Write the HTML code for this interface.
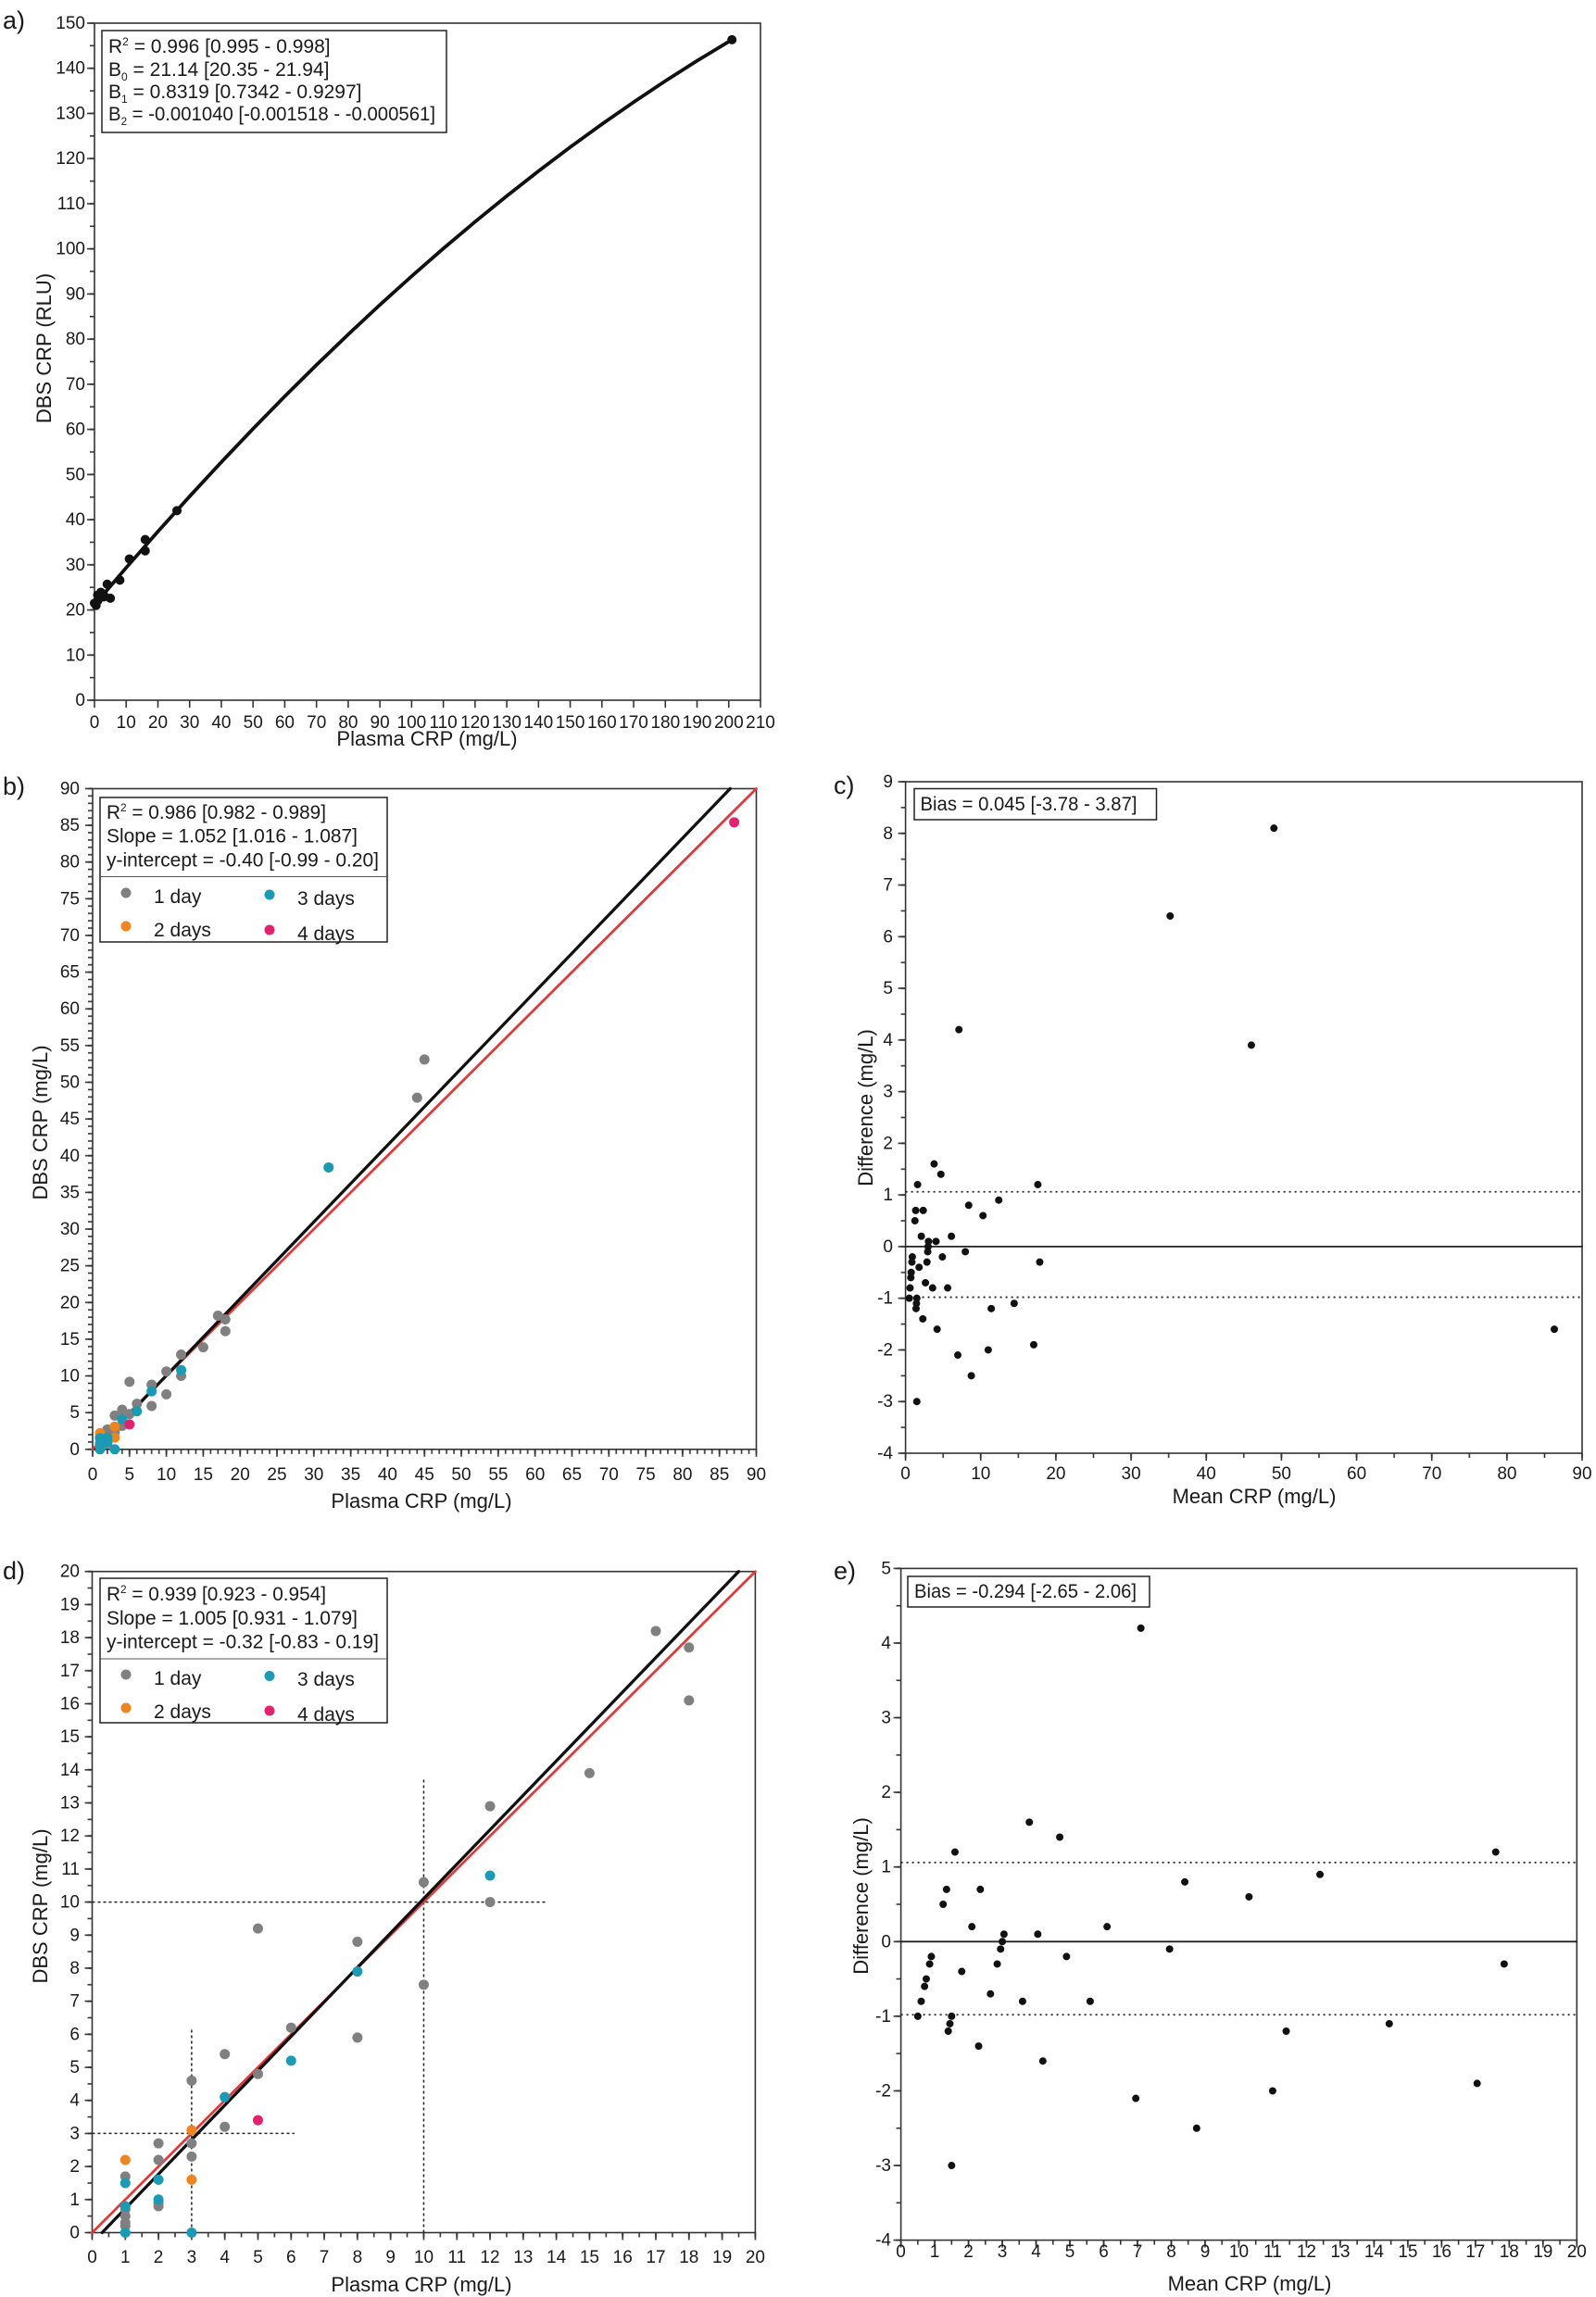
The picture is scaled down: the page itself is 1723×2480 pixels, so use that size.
<!DOCTYPE html>
<html><head><meta charset="utf-8"><style>
html,body{margin:0;padding:0;background:#fff}
svg{display:block}
text{font-family:"Liberation Sans",Arial,sans-serif;fill:#1a1a1a}
.t{font-size:19px}
.ti{font-size:22px}
.lg{font-size:21px}
.pl{font-size:27px}
.r{text-anchor:end}.m{text-anchor:middle}
.ax{fill:none;stroke:#333;stroke-width:2}
.d path{stroke-linecap:round;vector-effect:non-scaling-stroke;fill:none}
</style></head><body>
<svg width="1723" height="2480" viewBox="0 0 1723 2480" xmlns="http://www.w3.org/2000/svg">
<defs>
<pattern id="ya1" patternUnits="userSpaceOnUse" width="20" height="24.367" y="743.82"><rect y="11.38" width="20" height="1.6" fill="#333"/></pattern>
<pattern id="ya2" patternUnits="userSpaceOnUse" width="20" height="48.733" y="731.63"><rect y="23.57" width="20" height="1.6" fill="#333"/></pattern>
<pattern id="xa2" patternUnits="userSpaceOnUse" width="34.238" height="20" x="84.88"><rect x="16.32" width="1.6" height="20" fill="#333"/></pattern>
<pattern id="yb1" patternUnits="userSpaceOnUse" width="20" height="7.926" y="1560.84"><rect y="3.16" width="20" height="1.6" fill="#333"/></pattern>
<pattern id="yb2" patternUnits="userSpaceOnUse" width="20" height="39.63" y="1544.99"><rect y="19.0" width="20" height="1.6" fill="#333"/></pattern>
<pattern id="xb1" patternUnits="userSpaceOnUse" width="7.961" height="20" x="96.02"><rect x="3.18" width="1.6" height="20" fill="#333"/></pattern>
<pattern id="xb2" patternUnits="userSpaceOnUse" width="39.805" height="20" x="80.1"><rect x="19.1" width="1.6" height="20" fill="#333"/></pattern>
<pattern id="yc1" patternUnits="userSpaceOnUse" width="20" height="27.885" y="1555.06"><rect y="13.14" width="20" height="1.6" fill="#333"/></pattern>
<pattern id="yc2" patternUnits="userSpaceOnUse" width="20" height="55.77" y="1541.12"><rect y="27.08" width="20" height="1.6" fill="#333"/></pattern>
<pattern id="xc1" patternUnits="userSpaceOnUse" width="40.58" height="20" x="957.31"><rect x="19.49" width="1.6" height="20" fill="#333"/></pattern>
<pattern id="xc2" patternUnits="userSpaceOnUse" width="81.16" height="20" x="937.02"><rect x="39.78" width="1.6" height="20" fill="#333"/></pattern>
<pattern id="yd1" patternUnits="userSpaceOnUse" width="20" height="17.845" y="2401.58"><rect y="8.12" width="20" height="1.6" fill="#333"/></pattern>
<pattern id="yd2" patternUnits="userSpaceOnUse" width="20" height="35.69" y="2392.66"><rect y="17.04" width="20" height="1.6" fill="#333"/></pattern>
<pattern id="xd1" patternUnits="userSpaceOnUse" width="17.8975" height="20" x="90.55"><rect x="8.15" width="1.6" height="20" fill="#333"/></pattern>
<pattern id="xd2" patternUnits="userSpaceOnUse" width="35.795" height="20" x="81.6"><rect x="17.1" width="1.6" height="20" fill="#333"/></pattern>
<pattern id="ye1" patternUnits="userSpaceOnUse" width="20" height="40.29" y="2398.46"><rect y="19.35" width="20" height="1.6" fill="#333"/></pattern>
<pattern id="ye2" patternUnits="userSpaceOnUse" width="20" height="80.58" y="2378.31"><rect y="39.49" width="20" height="1.6" fill="#333"/></pattern>
<pattern id="xe1" patternUnits="userSpaceOnUse" width="18.2425" height="20" x="963.48"><rect x="8.32" width="1.6" height="20" fill="#333"/></pattern>
<pattern id="xe2" patternUnits="userSpaceOnUse" width="36.485" height="20" x="954.36"><rect x="17.44" width="1.6" height="20" fill="#333"/></pattern>
</defs>

<!-- ================= PANEL A ================= -->
<text class="pl" x="3" y="31">a)</text>
<rect class="ax" x="102" y="25" width="719" height="731" style="stroke-width:1.6"/>
<rect x="97" y="23" width="5" height="735" fill="url(#ya1)"/>
<rect x="94" y="23" width="8" height="735" fill="url(#ya2)"/>
<rect x="100" y="756" width="723" height="8" fill="url(#xa2)"/>
<g class="t r">
<text x="92" y="762">0</text><text x="92" y="713.3">10</text><text x="92" y="664.5">20</text><text x="92" y="615.8">30</text><text x="92" y="567.1">40</text><text x="92" y="518.3">50</text><text x="92" y="469.6">60</text><text x="92" y="420.9">70</text><text x="92" y="372.1">80</text><text x="92" y="323.4">90</text><text x="92" y="274.7">100</text><text x="92" y="225.9">110</text><text x="92" y="177.2">120</text><text x="92" y="128.5">130</text><text x="92" y="79.7">140</text><text x="92" y="31">150</text>
</g>
<g class="t m">
<text x="102" y="786">0</text><text x="136.2" y="786">10</text><text x="170.5" y="786">20</text><text x="204.7" y="786">30</text><text x="238.9" y="786">40</text><text x="273.2" y="786">50</text><text x="307.4" y="786">60</text><text x="341.7" y="786">70</text><text x="375.9" y="786">80</text><text x="410.1" y="786">90</text><text x="444.4" y="786">100</text><text x="478.6" y="786">110</text><text x="512.9" y="786">120</text><text x="547.1" y="786">130</text><text x="581.3" y="786">140</text><text x="615.6" y="786">150</text><text x="649.8" y="786">160</text><text x="684" y="786">170</text><text x="718.3" y="786">180</text><text x="752.5" y="786">190</text><text x="786.8" y="786">200</text><text x="821" y="786">210</text>
</g>
<text class="ti m" x="461" y="805">Plasma CRP (mg/L)</text>
<text class="ti m" transform="translate(55,376) rotate(-90)">DBS CRP (RLU)</text>
<rect x="110" y="33" width="372" height="110" fill="#fff" stroke="#222" stroke-width="1.5"/>
<g class="lg">
<text x="117" y="57">R<tspan font-size="12" dy="-8">2</tspan><tspan dy="8"> = 0.996 [0.995 - 0.998]</tspan></text>
<text x="117" y="82">B<tspan font-size="12" dy="5">0</tspan><tspan dy="-5"> = 21.14 [20.35 - 21.94]</tspan></text>
<text x="117" y="106">B<tspan font-size="12" dy="5">1</tspan><tspan dy="-5"> = 0.8319 [0.7342 - 0.9297]</tspan></text>
<text x="117" y="130" textLength="353" lengthAdjust="spacingAndGlyphs">B<tspan font-size="12" dy="5">2</tspan><tspan dy="-5"> = -0.001040 [-0.001518 - -0.000561]</tspan></text>
</g>
<g class="d" transform="matrix(3.4238 0 0 -4.8733 102 756)">
<path d="M0 21.14L10 29.355L20 37.362L30 45.161L40 52.752L50 60.135L60 67.31L70 74.277L80 81.036L90 87.587L100 93.93L110 100.065L120 105.992L130 111.711L140 117.222L150 122.525L160 127.62L170 132.507L180 137.186L190 141.657L201 146.33" stroke="#111" stroke-width="3.8"/>
<path d="M201 146.33h0M26 42h0M16 35.6h0M16 33.1h0M11 31.3h0M8 26.6h0M4 25.7h0M5 22.6h0M2 23.9h0M3 23.2h0M1 23.3h0M0.5 21h0M1 22h0M2 22.8h0M0 21.5h0M3 22.9h0" stroke="#111" stroke-width="10"/>
</g>

<!-- ================= PANEL B ================= -->
<text class="pl" x="3" y="858">b)</text>
<rect class="ax" x="100" y="851.5" width="716.5" height="713.3" style="stroke-width:1.6"/>
<rect x="95" y="849" width="5" height="718" fill="url(#yb1)"/>
<rect x="92" y="849" width="8" height="718" fill="url(#yb2)"/>
<rect x="98" y="1564.8" width="721" height="5" fill="url(#xb1)"/>
<rect x="98" y="1564.8" width="721" height="8" fill="url(#xb2)"/>
<g class="t r">
<text x="86" y="1570.8">0</text><text x="86" y="1531.2">5</text><text x="86" y="1491.5">10</text><text x="86" y="1451.9">15</text><text x="86" y="1412.3">20</text><text x="86" y="1372.7">25</text><text x="86" y="1333">30</text><text x="86" y="1293.4">35</text><text x="86" y="1253.8">40</text><text x="86" y="1214.1">45</text><text x="86" y="1174.5">50</text><text x="86" y="1134.9">55</text><text x="86" y="1095.2">60</text><text x="86" y="1055.6">65</text><text x="86" y="1016">70</text><text x="86" y="976.4">75</text><text x="86" y="936.7">80</text><text x="86" y="897.1">85</text><text x="86" y="857.5">90</text>
</g>
<g class="t m">
<text x="100" y="1598">0</text><text x="139.8" y="1598">5</text><text x="179.6" y="1598">10</text><text x="219.4" y="1598">15</text><text x="259.2" y="1598">20</text><text x="299" y="1598">25</text><text x="338.8" y="1598">30</text><text x="378.6" y="1598">35</text><text x="418.4" y="1598">40</text><text x="458.2" y="1598">45</text><text x="498" y="1598">50</text><text x="537.9" y="1598">55</text><text x="577.7" y="1598">60</text><text x="617.5" y="1598">65</text><text x="657.3" y="1598">70</text><text x="697.1" y="1598">75</text><text x="736.9" y="1598">80</text><text x="776.7" y="1598">85</text><text x="816.5" y="1598">90</text>
</g>
<text class="ti m" x="455" y="1628">Plasma CRP (mg/L)</text>
<text class="ti m" transform="translate(51,1212) rotate(-90)">DBS CRP (mg/L)</text>
<g class="d" transform="matrix(7.961 0 0 -7.926 100 1564.8)">
<path d="M0 0L90 90" stroke="#e03a3a" stroke-width="2.8"/>
<path d="M0.38 0L86.45 90" stroke="#111" stroke-width="3.3"/>
<path d="M45 53.1h0M44 47.9h0M17 18.2h0M18 17.7h0M18 16.1h0M15 13.9h0M12 12.9h0M12 10h0M10 10.6h0M10 7.5h0M5 9.2h0M8 8.8h0M8 5.9h0M6 6.2h0M4 5.4h0M3 4.6h0M5 4.8h0M4 3.2h0M3 2.7h0M3 2.3h0M2 2.7h0M2 2.2h0M1 1.7h0M2 0.8h0M1 0.5h0M1 0.3h0" stroke="#808080" stroke-width="11"/>
<path d="M1 2.2h0M3 3.1h0M3 1.6h0" stroke="#f0841e" stroke-width="11"/>
<path d="M32 38.4h0M12 10.8h0M8 7.9h0M6 5.2h0M4 4.1h0M1 1.5h0M2 1.6h0M1 0.8h0M2 1.0h0M1 0h0M3 0h0" stroke="#1a9bb5" stroke-width="11"/>
<path d="M87 85.4h0M5 3.4h0" stroke="#e5206f" stroke-width="11"/>
</g>
<rect x="108" y="861" width="310" height="156" fill="#fff" stroke="#222" stroke-width="1.5"/>
<line x1="108" y1="946.5" x2="418" y2="946.5" stroke="#555" stroke-width="1"/>
<g class="lg">
<text x="115" y="884" textLength="237" lengthAdjust="spacingAndGlyphs">R<tspan font-size="12" dy="-8">2</tspan><tspan dy="8"> = 0.986 [0.982 - 0.989]</tspan></text>
<text x="115" y="909.5" textLength="271" lengthAdjust="spacingAndGlyphs">Slope = 1.052 [1.016 - 1.087]</text>
<text x="115" y="935.5" textLength="294" lengthAdjust="spacingAndGlyphs">y-intercept = -0.40 [-0.99 - 0.20]</text>
<text x="166" y="975">1 day</text><text x="166" y="1011">2 days</text><text x="321" y="977">3 days</text><text x="321" y="1015">4 days</text>
</g>
<circle cx="136" cy="964" r="5.5" fill="#808080"/><circle cx="136" cy="1000" r="5.5" fill="#f0841e"/>
<circle cx="291" cy="966" r="5.5" fill="#1a9bb5"/><circle cx="291" cy="1004" r="5.5" fill="#e5206f"/>

<!-- ================= PANEL C ================= -->
<text class="pl" x="900" y="857">c)</text>
<rect class="ax" x="977.6" y="844" width="730.4" height="725" style="stroke-width:1.6"/>
<rect x="972.6" y="842" width="5" height="729" fill="url(#yc1)"/>
<rect x="969.6" y="842" width="8" height="729" fill="url(#yc2)"/>
<rect x="975.6" y="1569" width="735" height="5" fill="url(#xc1)"/>
<rect x="975.6" y="1569" width="735" height="8" fill="url(#xc2)"/>
<g class="t r">
<text x="964" y="1575">-4</text><text x="964" y="1519.2">-3</text><text x="964" y="1463.5">-2</text><text x="964" y="1407.7">-1</text><text x="964" y="1351.9">0</text><text x="964" y="1296.2">1</text><text x="964" y="1240.4">2</text><text x="964" y="1184.6">3</text><text x="964" y="1128.8">4</text><text x="964" y="1073.1">5</text><text x="964" y="1017.3">6</text><text x="964" y="961.5">7</text><text x="964" y="905.8">8</text><text x="964" y="850">9</text>
</g>
<g class="t m">
<text x="977.6" y="1597">0</text><text x="1058.8" y="1597">10</text><text x="1139.9" y="1597">20</text><text x="1221.1" y="1597">30</text><text x="1302.2" y="1597">40</text><text x="1383.4" y="1597">50</text><text x="1464.6" y="1597">60</text><text x="1545.7" y="1597">70</text><text x="1626.9" y="1597">80</text><text x="1708" y="1597">90</text>
</g>
<text class="ti m" x="1354" y="1623">Mean CRP (mg/L)</text>
<text class="ti m" transform="translate(942,1196) rotate(-90)">Difference (mg/L)</text>
<g class="d" transform="matrix(8.116 0 0 -55.77 977.6 1345.9)">
<path d="M0 0H90" stroke="#222" stroke-width="1.8"/>
<path d="M0 1.06H90M0 -0.98H90" stroke="#222" stroke-width="1.8" stroke-dasharray="2 4" style="stroke-linecap:butt"/>
<path d="M49 8.1h0M35.2 6.4h0M46 3.9h0M86.3 -1.6h0M7.1 4.2h0M3.8 1.6h0M4.7 1.4h0M1.6 1.2h0M17.6 1.2h0M12.4 0.9h0M8.4 0.8h0M1.35 0.7h0M2.35 0.7h0M10.3 0.6h0M1.25 0.5h0M2.1 0.2h0M6.1 0.2h0M3.05 0.1h0M4.05 0.1h0M3 0h0M2.95 -0.1h0M7.95 -0.1h0M0.9 -0.2h0M4.9 -0.2h0M0.85 -0.3h0M2.85 -0.3h0M17.85 -0.3h0M1.8 -0.4h0M0.75 -0.5h0M0.7 -0.6h0M2.65 -0.7h0M3.6 -0.8h0M5.6 -0.8h0M0.6 -0.8h0M0.5 -1h0M1.5 -1h0M1.45 -1.1h0M14.45 -1.1h0M1.4 -1.2h0M11.4 -1.2h0M2.3 -1.4h0M4.2 -1.6h0M6.95 -2.1h0M11 -2h0M17.05 -1.9h0M8.75 -2.5h0M1.5 -3h0" stroke="#111" stroke-width="8"/>
</g>
<rect x="987" y="851.5" width="261.5" height="33.5" fill="#fff" stroke="#222" stroke-width="1.5"/>
<text class="lg" x="993.5" y="875" textLength="234" lengthAdjust="spacingAndGlyphs">Bias = 0.045 [-3.78 - 3.87]</text>

<!-- ================= PANEL D ================= -->
<text class="pl" x="3" y="1705">d)</text>
<rect class="ax" x="99.5" y="1696.7" width="715.9" height="713.8" style="stroke-width:1.6"/>
<rect x="94.5" y="1694" width="5" height="719" fill="url(#yd1)"/>
<rect x="91.5" y="1694" width="8" height="719" fill="url(#yd2)"/>
<rect x="97.5" y="2410.5" width="720" height="5" fill="url(#xd1)"/>
<rect x="97.5" y="2410.5" width="720" height="8" fill="url(#xd2)"/>
<g class="t r">
<text x="86" y="2416.5">0</text><text x="86" y="2380.8">1</text><text x="86" y="2345.1">2</text><text x="86" y="2309.4">3</text><text x="86" y="2273.7">4</text><text x="86" y="2238">5</text><text x="86" y="2202.4">6</text><text x="86" y="2166.7">7</text><text x="86" y="2131">8</text><text x="86" y="2095.3">9</text><text x="86" y="2059.6">10</text><text x="86" y="2023.9">11</text><text x="86" y="1988.2">12</text><text x="86" y="1952.5">13</text><text x="86" y="1916.8">14</text><text x="86" y="1881.2">15</text><text x="86" y="1845.5">16</text><text x="86" y="1809.8">17</text><text x="86" y="1774.1">18</text><text x="86" y="1738.4">19</text><text x="86" y="1702.7">20</text>
</g>
<g class="t m">
<text x="99.5" y="2443">0</text><text x="135.3" y="2443">1</text><text x="171.1" y="2443">2</text><text x="206.9" y="2443">3</text><text x="242.7" y="2443">4</text><text x="278.5" y="2443">5</text><text x="314.3" y="2443">6</text><text x="350.1" y="2443">7</text><text x="385.9" y="2443">8</text><text x="421.7" y="2443">9</text><text x="457.5" y="2443">10</text><text x="493.2" y="2443">11</text><text x="529" y="2443">12</text><text x="564.8" y="2443">13</text><text x="600.6" y="2443">14</text><text x="636.4" y="2443">15</text><text x="672.2" y="2443">16</text><text x="708" y="2443">17</text><text x="743.8" y="2443">18</text><text x="779.6" y="2443">19</text><text x="815.4" y="2443">20</text>
</g>
<text class="ti m" x="455" y="2474">Plasma CRP (mg/L)</text>
<text class="ti m" transform="translate(51,2058) rotate(-90)">DBS CRP (mg/L)</text>
<g class="d" transform="matrix(35.795 0 0 -35.69 99.5 2410.5)">
<path d="M3 0V6.2M0 3H6.1M10 0V13.75M0 10H13.7" stroke="#222" stroke-width="1.5" stroke-dasharray="3 3" style="stroke-linecap:butt"/>
<path d="M0 0L20 20" stroke="#e03a3a" stroke-width="2.8"/>
<path d="M0.3 0L19.5 20" stroke="#111" stroke-width="3.3"/>
<path d="M17 18.2h0M18 17.7h0M18 16.1h0M15 13.9h0M12 12.9h0M12 10h0M10 10.6h0M10 7.5h0M5 9.2h0M8 8.8h0M8 5.9h0M6 6.2h0M4 5.4h0M3 4.6h0M5 4.8h0M4 3.2h0M3 2.7h0M3 2.3h0M2 2.7h0M2 2.2h0M1 1.7h0M2 0.8h0M2 0.9h0M1 0.5h0M1 0.3h0M1 0.7h0M1 0.2h0" stroke="#808080" stroke-width="11"/>
<path d="M1 2.2h0M3 3.1h0M3 1.6h0" stroke="#f0841e" stroke-width="11"/>
<path d="M12 10.8h0M8 7.9h0M6 5.2h0M4 4.1h0M1 1.5h0M2 1.6h0M1 0.8h0M2 1.0h0M1 0h0M3 0h0" stroke="#1a9bb5" stroke-width="11"/>
<path d="M5 3.4h0" stroke="#e5206f" stroke-width="11"/>
</g>
<rect x="108" y="1704" width="310" height="156" fill="#fff" stroke="#222" stroke-width="1.5"/>
<line x1="108" y1="1791" x2="418" y2="1791" stroke="#555" stroke-width="1"/>
<g class="lg">
<text x="115" y="1728" textLength="237" lengthAdjust="spacingAndGlyphs">R<tspan font-size="12" dy="-8">2</tspan><tspan dy="8"> = 0.939 [0.923 - 0.954]</tspan></text>
<text x="115" y="1754" textLength="271" lengthAdjust="spacingAndGlyphs">Slope = 1.005 [0.931 - 1.079]</text>
<text x="115" y="1779.5" textLength="294" lengthAdjust="spacingAndGlyphs">y-intercept = -0.32 [-0.83 - 0.19]</text>
<text x="166" y="1819">1 day</text><text x="166" y="1855">2 days</text><text x="321" y="1820">3 days</text><text x="321" y="1858">4 days</text>
</g>
<circle cx="136" cy="1808" r="5.5" fill="#808080"/><circle cx="136" cy="1844" r="5.5" fill="#f0841e"/>
<circle cx="291" cy="1809.5" r="5.5" fill="#1a9bb5"/><circle cx="291" cy="1847" r="5.5" fill="#e5206f"/>

<!-- ================= PANEL E ================= -->
<text class="pl" x="900" y="1705">e)</text>
<rect class="ax" x="972.6" y="1693.4" width="729.7" height="725.2" style="stroke-width:1.6"/>
<rect x="967.6" y="1691" width="5" height="730" fill="url(#ye1)"/>
<rect x="964.6" y="1691" width="8" height="730" fill="url(#ye2)"/>
<rect x="970.6" y="2418.6" width="734" height="5" fill="url(#xe1)"/>
<rect x="970.6" y="2418.6" width="734" height="8" fill="url(#xe2)"/>
<g class="t r">
<text x="962" y="2424.6">-4</text><text x="962" y="2344">-3</text><text x="962" y="2263.4">-2</text><text x="962" y="2182.9">-1</text><text x="962" y="2102.3">0</text><text x="962" y="2021.7">1</text><text x="962" y="1941.1">2</text><text x="962" y="1860.6">3</text><text x="962" y="1780">4</text><text x="962" y="1699.4">5</text>
</g>
<g class="t m">
<text x="972.6" y="2437">0</text><text x="1009.1" y="2437">1</text><text x="1045.6" y="2437">2</text><text x="1082.1" y="2437">3</text><text x="1118.5" y="2437">4</text><text x="1155" y="2437">5</text><text x="1191.5" y="2437">6</text><text x="1228" y="2437">7</text><text x="1264.5" y="2437">8</text><text x="1301" y="2437">9</text><text x="1337.5" y="2437">10</text><text x="1373.9" y="2437">11</text><text x="1410.4" y="2437">12</text><text x="1446.9" y="2437">13</text><text x="1483.4" y="2437">14</text><text x="1519.9" y="2437">15</text><text x="1556.4" y="2437">16</text><text x="1592.8" y="2437">17</text><text x="1629.3" y="2437">18</text><text x="1665.8" y="2437">19</text><text x="1702.3" y="2437">20</text>
</g>
<text class="ti m" x="1349" y="2473">Mean CRP (mg/L)</text>
<text class="ti m" transform="translate(937,2047) rotate(-90)">Difference (mg/L)</text>
<g class="d" transform="matrix(36.485 0 0 -80.58 972.6 2096.3)">
<path d="M0 0H20" stroke="#222" stroke-width="1.8"/>
<path d="M0 1.06H20M0 -0.98H20" stroke="#222" stroke-width="1.8" stroke-dasharray="2 4" style="stroke-linecap:butt"/>
<path d="M7.1 4.2h0M3.8 1.6h0M4.7 1.4h0M1.6 1.2h0M17.6 1.2h0M12.4 0.9h0M8.4 0.8h0M1.35 0.7h0M2.35 0.7h0M10.3 0.6h0M1.25 0.5h0M2.1 0.2h0M6.1 0.2h0M3.05 0.1h0M4.05 0.1h0M3 0h0M2.95 -0.1h0M7.95 -0.1h0M0.9 -0.2h0M4.9 -0.2h0M0.85 -0.3h0M2.85 -0.3h0M17.85 -0.3h0M1.8 -0.4h0M0.75 -0.5h0M0.7 -0.6h0M2.65 -0.7h0M3.6 -0.8h0M5.6 -0.8h0M0.6 -0.8h0M0.5 -1h0M1.5 -1h0M1.45 -1.1h0M14.45 -1.1h0M1.4 -1.2h0M11.4 -1.2h0M2.3 -1.4h0M4.2 -1.6h0M6.95 -2.1h0M11 -2h0M17.05 -1.9h0M8.75 -2.5h0M1.5 -3h0" stroke="#111" stroke-width="8"/>
</g>
<rect x="980" y="1702" width="261" height="33" fill="#fff" stroke="#222" stroke-width="1.5"/>
<text class="lg" x="987" y="1725" textLength="240" lengthAdjust="spacingAndGlyphs">Bias = -0.294 [-2.65 - 2.06]</text>
</svg>
</body></html>
